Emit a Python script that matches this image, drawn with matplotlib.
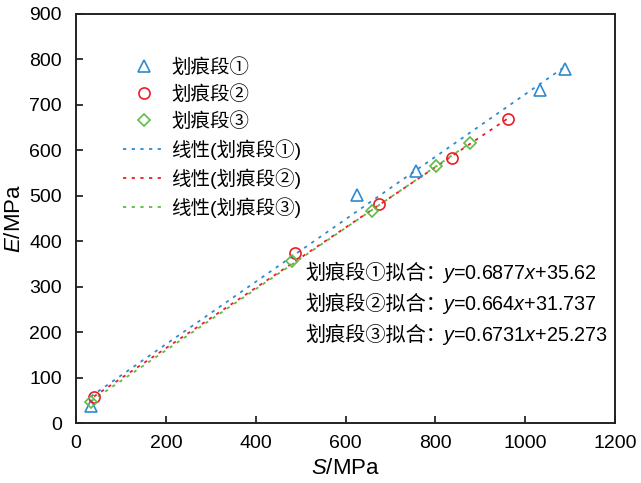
import matplotlib
matplotlib.use("Agg")
import matplotlib.pyplot as plt
import numpy as np
from matplotlib.transforms import IdentityTransform

# ---------------- data ----------------
s1_S = [33, 625, 757, 1033, 1088]
s1_E = [38, 502, 555, 733, 780]
s2_S = [40, 487, 674, 836, 961]
s2_E = [57, 375, 483, 584, 668]
s3_S = [33, 481, 660, 801, 878]
s3_E = [47, 357, 466, 566, 617]

fit_slopes = [0.6877, 0.664, 0.6731]
fit_intercepts = [35.62, 31.737, 25.273]
fit_slope_txt = ["0.6877", "0.664", "0.6731"]
fit_int_txt = ["35.62", "31.737", "25.273"]

series_labels = ["划痕段①", "划痕段②", "划痕段③"]
fit_labels = ["线性(划痕段①)", "线性(划痕段②)", "线性(划痕段③)"]
fit_prefix = ["划痕段①拟合：", "划痕段②拟合：", "划痕段③拟合："]

x_ticks = [0, 200, 400, 600, 800, 1000, 1200]
y_ticks = [0, 100, 200, 300, 400, 500, 600, 700, 800, 900]

# ---------------- style ----------------
plt.rcParams['font.family'] = ['Liberation Sans', 'Noto Sans CJK SC', 'DejaVu Sans']
plt.rcParams['mathtext.fontset'] = 'custom'
plt.rcParams['mathtext.rm'] = 'Liberation Sans'
plt.rcParams['mathtext.it'] = 'Liberation Sans:italic'

colors = ['#2F8BD0', '#EE1C25', '#5DBB46']
markers = ['^', 'o', 'D']
msizes = [8.5, 8, 5.8]

W, H = 641, 483
fig = plt.figure(figsize=(W / 100, H / 100), dpi=100)
ax = fig.add_axes([76 / W, 1 - 423 / H, 539 / W, 409 / H])

S_all = [s1_S, s2_S, s3_S]
E_all = [s1_E, s2_E, s3_E]

pt_handles = []
for i in range(3):
    h, = ax.plot(S_all[i], E_all[i], linestyle='none', marker=markers[i],
                 ms=msizes[i], mfc='none', mec=colors[i], mew=1.2,
                 label=series_labels[i], zorder=3)
    pt_handles.append(h)

ln_handles = []
for i in range(3):
    xs = np.array([min(S_all[i]), max(S_all[i])], dtype=float)
    ys = fit_slopes[i] * xs + fit_intercepts[i]
    h, = ax.plot(xs, ys, linestyle=(0, (1.8, 3.0)), lw=1.3, color=colors[i],
                 label=fit_labels[i], zorder=2)
    ln_handles.append(h)

ax.set_xlim(0, 1200)
ax.set_ylim(0, 900)
ax.set_xticks(x_ticks)
ax.set_yticks(y_ticks)
ax.tick_params(direction='in', length=5, width=1.1, labelsize=14,
               top=False, right=False)
ax.tick_params(axis='x', pad=9)
ax.tick_params(axis='y', pad=10)
for sp in ax.spines.values():
    sp.set_linewidth(1.4)
    sp.set_color('#222222')

ax.set_xlabel('$S$/MPa', fontsize=16, labelpad=4)
ax.set_ylabel('$E$/MPa', fontsize=16, labelpad=3)

leg = ax.legend(handles=pt_handles + ln_handles, loc='upper left',
                bbox_to_anchor=(0.087, 0.892), frameon=False, fontsize=14,
                handlelength=2.2, handletextpad=0.3, labelspacing=0.42,
                borderpad=0, borderaxespad=0)

# ---------------- fit annotations ----------------
fig.canvas.draw()
renderer = fig.canvas.get_renderer()
baselines = [279, 310, 341]
for i in range(3):
    y_disp = H - baselines[i]
    t1 = fig.text(305, y_disp, fit_prefix[i], transform=IdentityTransform(),
                  fontsize=14.5, va='baseline', ha='left',
                  family=['Noto Sans CJK SC', 'DejaVu Sans'])
    eq = '$y$=' + fit_slope_txt[i] + '$x$+' + fit_int_txt[i]
    fig.text(442, y_disp, eq, transform=IdentityTransform(),
             fontsize=14.2, va='baseline', ha='left',
             family=['Liberation Sans'])

fig.savefig('out.png', dpi=100)
